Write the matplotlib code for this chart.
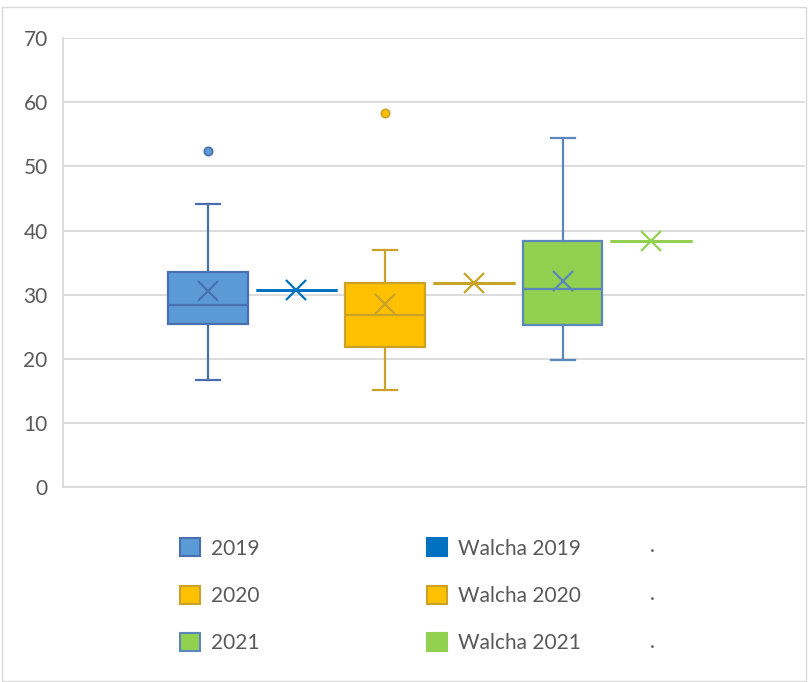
import matplotlib.pyplot as plt
from matplotlib.patches import Patch, Rectangle

plt.rcParams['font.family'] = ['Lato', 'DejaVu Sans']

# box statistics
series = ['2019', 'Walcha 2019', '2020', 'Walcha 2020', '2021', 'Walcha 2021']
whislo = [16.7, 30.7, 15.1, 31.8, 19.8, 38.4]
q1 = [25.4, 30.7, 21.8, 31.8, 25.3, 38.4]
med = [28.4, 30.7, 26.8, 31.8, 30.9, 38.4]
q3 = [33.5, 30.7, 31.8, 31.8, 38.4, 38.4]
whishi = [44.1, 30.7, 37.0, 31.8, 54.4, 38.4]
means = [30.6, 30.7, 28.5, 31.8, 32.1, 38.4]
fliers = [[52.4], [], [58.3], [], [], []]

fills = ['#5B9BD5', 'none', '#FFC000', 'none', '#92D050', 'none']
edges = ['#4A6FB0', '#0070C0', '#C9A227', '#C9A227', '#5B87BD', '#92D050']
legend_fill = ['#5B9BD5', '#0070C0', '#FFC000', '#FFC000', '#92D050', '#92D050']
legend_edge = ['#4A6FB0', '#0070C0', '#C9A227', '#C9A227', '#5B87BD', '#92D050']

FS = 15

fig = plt.figure(figsize=[8.08, 6.82], dpi=100)
ax = fig.add_axes([0.078, 0.286, 0.918, 0.658])

for i, name in enumerate(series):
    stats = [dict(label=name, whislo=whislo[i], q1=q1[i], med=med[i], q3=q3[i],
                  whishi=whishi[i], mean=means[i], fliers=fliers[i])]
    single = q1[i] == q3[i]
    lw = 1.6 if not single else 2.0
    ax.bxp(stats, positions=[i], widths=0.9 if not single else 0.92,
           capwidths=0.27 if not single else 0.0,
           showmeans=True, patch_artist=True,
           boxprops=dict(facecolor=fills[i], edgecolor=edges[i], linewidth=lw),
           medianprops=dict(color=edges[i], linewidth=lw),
           whiskerprops=dict(color=edges[i], linewidth=1.6),
           capprops=dict(color=edges[i], linewidth=1.6),
           meanprops=dict(marker='x', markersize=14, markeredgewidth=1.6,
                          markeredgecolor=edges[i]),
           flierprops=dict(marker='o', markersize=6, markerfacecolor=fills[i],
                           markeredgecolor=edges[i], markeredgewidth=1.2))

ax.set_xlim(-1.63, 6.73)
ax.set_ylim(0, 70)
ax.set_yticks(range(0, 71, 10))
ax.set_xticks([])
ax.yaxis.grid(True, color='#D9D9D9', linewidth=1.3)
ax.set_axisbelow(True)
for s in ['top', 'right']:
    ax.spines[s].set_visible(False)
for s in ['left', 'bottom']:
    ax.spines[s].set_color('#D9D9D9')
    ax.spines[s].set_linewidth(1.3)
ax.tick_params(axis='y', length=0, labelsize=FS, labelcolor='#595959', pad=11)

# legend: two columns of patches and a column of dots
col1 = [0, 2, 4]
col2 = [1, 3, 5]
for cols, x0 in [(col1, 170 / 808), (col2, 417 / 808)]:
    handles = [Patch(facecolor=legend_fill[j], edgecolor=legend_edge[j], linewidth=1.5,
                     label=series[j]) for j in cols]
    fig.legend(handles=handles, loc='upper left', bbox_to_anchor=(x0, 1 - 528 / 682),
               frameon=False, fontsize=FS, labelcolor='#595959', handlelength=0.95,
               handleheight=0.95, handletextpad=0.5, labelspacing=1.3, borderpad=0)
dots = ['.', '.', '.']
for k, d in enumerate(dots):
    fig.text(650 / 808, 1 - (546 + 48 * k) / 682, d, fontsize=FS, color='#595959', va='center')

fig.patches.append(Rectangle((0.002, 0.002), 0.996, 0.988, transform=fig.transFigure,
                             fill=False, edgecolor='#D9D9D9', linewidth=1))

plt.savefig('out.png', dpi=100)
